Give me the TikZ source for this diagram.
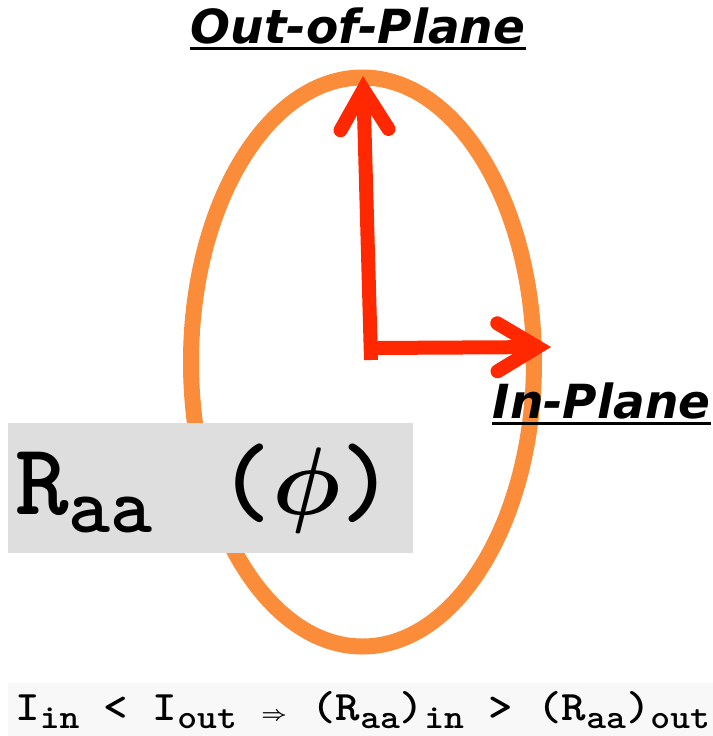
\documentclass[tikz,border=0pt]{standalone}
\usepackage{fontspec}
\usepackage{graphicx}
\usepackage{tikz}
\usetikzlibrary{arrows.meta}
\newfontfamily\planefont{DejaVu Sans}
\definecolor{RingOrange}{RGB}{250,140,58}
\definecolor{AxisRed}{RGB}{255,40,0}
\definecolor{RaaGray}{RGB}{222,222,222}
\definecolor{EqGray}{RGB}{248,248,248}
\newcommand{\sublow}[1]{\raisebox{-4pt}{\fontsize{17}{17}\selectfont #1}}

\begin{document}
\begin{tikzpicture}[x=0.5pt,y=-0.5pt,
ring/.style={draw=RingOrange,line width=8pt},
axis/.style={draw=AxisRed,line width=7pt,-{Straight Barb[length=20pt,width=24pt,line cap=round,line join=miter]}},
planelbl/.style={font=\planefont\bfseries\itshape\fontsize{23.5}{26}\selectfont,inner sep=0pt},
uline/.style={line width=1.5pt},
raabox/.style={fill=RaaGray,inner xsep=3.5pt,inner ysep=0pt,minimum width=202.5pt,minimum height=65pt},
eqbox/.style={fill=EqGray,inner xsep=3.5pt,inner ysep=0pt,minimum width=352.5pt,minimum height=26.5pt}]
\useasboundingbox (0,0) rectangle (713,736);
\draw[ring] (362.5,362) ellipse [x radius=85.75pt,y radius=142.25pt];
% axes
\coordinate (vbase) at (371,360);
\coordinate (hbase) at (371,348);
\coordinate (outtip) at (363,76);
\coordinate (intip) at (551,347);
\draw[axis] (vbase) -- (outtip);
\draw[axis] (hbase) -- (intip);
% labels
\node[planelbl,anchor=base] (outlbl) at (358,43) {Out-of-Plane};
\draw[uline] ([yshift=-2.5pt]outlbl.base west) -- ([yshift=-2.5pt]outlbl.base east);
\node[planelbl,anchor=base east] (inlbl) at (711,418) {In-Plane};
\draw[uline] ([yshift=-2.5pt]inlbl.base west) -- ([yshift=-2.5pt]inlbl.base east);
\node[raabox,anchor=north west] (raa) at (8,423) {\makebox[195.5pt][l]{\ttfamily\bfseries\fontsize{51}{51}\selectfont R\raisebox{-9pt}{\fontsize{40}{40}\selectfont aa}\hspace{6pt} (\scalebox{4.8}{\fontsize{10}{12}\selectfont\boldmath$\phi$})}};
\node[eqbox,anchor=north west] (eq) at (8,683) {\makebox[345.5pt][l]{\scalebox{1.11}[1]{\ttfamily\bfseries\fontsize{21}{22}\selectfont I\sublow{in} < I\sublow{out} {\fontsize{10}{12}\selectfont\boldmath$\Rightarrow$} (R\sublow{aa})\sublow{in} > (R\sublow{aa})\sublow{out}}}};
\end{tikzpicture}
\end{document}
